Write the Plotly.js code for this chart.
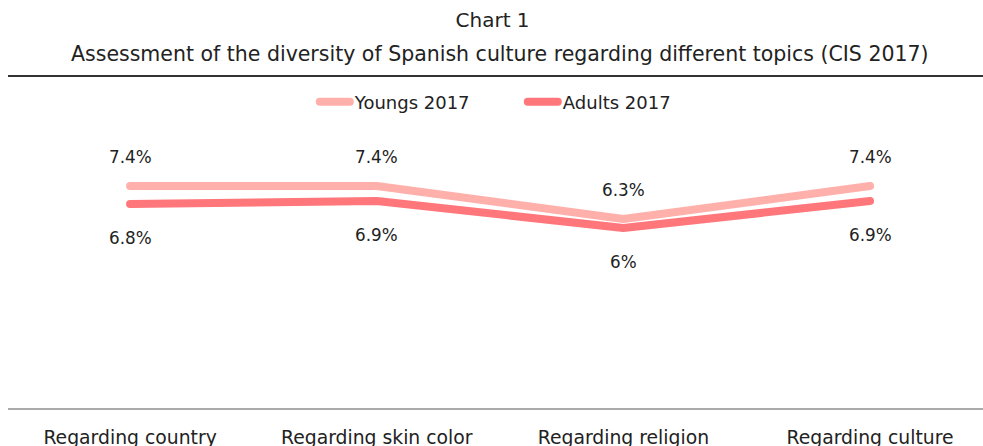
<!DOCTYPE html>
<html><head><meta charset="utf-8">
<script src="https://cdn.plot.ly/plotly-3.0.1.min.js"></script>
<style>
html,body{margin:0;padding:0;background:#fff}
path.js-line{stroke-linecap:round;stroke-linejoin:round}
.legendlines path{stroke-linecap:round}
</style>
</head><body>
<div id="chart" style="width:983px;height:446px"></div>
<script>
const categories = ["Regarding country","Regarding skin color","Regarding religion","Regarding culture"];
const youngs = [7.4, 7.4, 6.3, 7.4];
const adults = [6.8, 6.9, 6.0, 6.9];
const seriesNames = ["Youngs 2017", "Adults 2017"];
const titleText = "Chart 1";
const subtitleText = "Assessment of the diversity of Spanish culture regarding different topics (CIS 2017)";

const FONT = "DejaVu Sans, sans-serif";
const fmt = v => (Math.round(v*10)/10).toString().replace(/\.0$/, "") + "%";

const traces = [
  {x: categories, y: youngs, name: seriesNames[0], type: "scatter", mode: "lines",
   line: {color: "#FFB0AB", width: 8}, hoverinfo: "none"},
  {x: categories, y: adults, name: seriesNames[1], type: "scatter", mode: "lines",
   line: {color: "#FF767B", width: 8}, hoverinfo: "none"}
];

const annotations = [];
categories.forEach((c, i) => {
  annotations.push({x: c, y: youngs[i], xref: "x", yref: "y", text: fmt(youngs[i]),
    showarrow: false, yshift: 29, font: {family: FONT, size: 16.8, color: "#222"}});
  annotations.push({x: c, y: adults[i], xref: "x", yref: "y", text: fmt(adults[i]),
    showarrow: false, yshift: -34, font: {family: FONT, size: 16.8, color: "#222"}});
});
annotations.push({xref: "paper", yref: "paper", x: 0.505, y: (408-54)/300, text: subtitleText,
  showarrow: false, xanchor: "center", yanchor: "middle", font: {family: FONT, size: 20.5, color: "#222"}});

const layout = {
  width: 983, height: 446,
  margin: {l: 8, r: 0, t: 108, b: 38},
  paper_bgcolor: "#fff", plot_bgcolor: "#fff",
  font: {family: FONT, size: 16, color: "#222"},
  title: {text: titleText, x: 0.497, xref: "paper", y: 1 - 20/446, yanchor: "middle",
          font: {family: FONT, size: 20, color: "#222"}},
  showlegend: true,
  legend: {orientation: "h", x: 0.528, xanchor: "center", y: (408-102)/300, yanchor: "middle",
           font: {family: FONT, size: 18, color: "#222"}, itemwidth: 30, entrywidth: 163},
  xaxis: {type: "category", range: [-0.495, 3.458], showgrid: false, zeroline: false,
          showline: true, linecolor: "#aaa", linewidth: 2, ticks: "outside", ticklen: 11,
          tickcolor: "rgba(0,0,0,0)", tickfont: {family: FONT, size: 18.8, color: "#222"}, fixedrange: true},
  yaxis: {range: [0, 10], visible: false, fixedrange: true},
  shapes: [{type: "line", xref: "paper", yref: "paper", x0: 0, x1: 1,
            y0: (408-76)/300, y1: (408-76)/300, line: {color: "#333", width: 2}}],
  annotations: annotations
};

Plotly.newPlot("chart", traces, layout, {displayModeBar: false, staticPlot: true});
</script>
</body></html>
